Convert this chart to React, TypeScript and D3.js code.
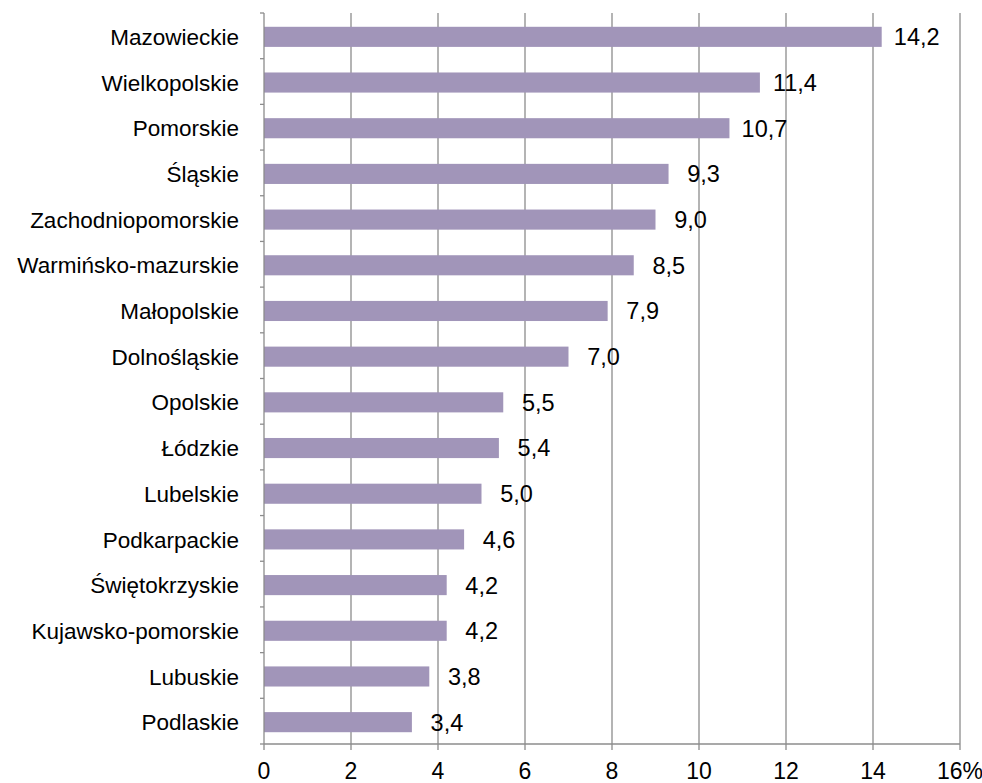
import React from 'react'
import * as d3 from 'd3'

// województwa, od góry
const regions = [
  'Mazowieckie', 'Wielkopolskie', 'Pomorskie', 'Śląskie', 'Zachodniopomorskie',
  'Warmińsko-mazurskie', 'Małopolskie', 'Dolnośląskie', 'Opolskie', 'Łódzkie',
  'Lubelskie', 'Podkarpackie', 'Świętokrzyskie', 'Kujawsko-pomorskie', 'Lubuskie', 'Podlaskie',
]
const shares = [14.2, 11.4, 10.7, 9.3, 9.0, 8.5, 7.9, 7.0, 5.5, 5.4, 5.0, 4.6, 4.2, 4.2, 3.8, 3.4]
const xTicks = [0, 2, 4, 6, 8, 10, 12, 14, 16]
const xTickLabels = ['0', '2', '4', '6', '8', '10', '12', '14', '16%']

const W = 982, H = 783
const LEFT = 264, RIGHT = 960, TOP = 13, BOTTOM = 744
const FONT = '"Liberation Sans", Arial, sans-serif'
const GRID = '#8c8c8c'
const BAR = '#a195b9'

export default function App() {
  const x = d3.scaleLinear().domain([0, 16]).range([LEFT, RIGHT])
  const y = d3.scaleBand().domain(regions).range([TOP + 1, BOTTOM + 1]).paddingInner(0.56).paddingOuter(0.28)
  const step = (BOTTOM - TOP) / regions.length
  const fmt = (v: number) => v.toFixed(1).replace('.', ',')

  return (
    <svg width={W} height={H} style={{ position: 'absolute', left: 0, top: 0, background: '#fff' }}>
      {/* linie siatki */}
      {xTicks.slice(1).map(t => (
        <line key={'g' + t} x1={x(t)} x2={x(t)} y1={TOP} y2={BOTTOM} stroke={GRID} strokeWidth={1.3} />
      ))}

      {/* słupki */}
      {regions.map((r, i) => (
        <rect key={r} x={x(0)} y={y(r)} width={x(shares[i]) - x(0)} height={y.bandwidth()} fill={BAR} />
      ))}

      {/* oś Y */}
      <line x1={LEFT} x2={LEFT} y1={TOP} y2={BOTTOM} stroke={GRID} strokeWidth={1.3} />
      {d3.range(regions.length + 1).map(i => (
        <line key={'yt' + i} x1={LEFT - 4} x2={LEFT} y1={TOP + i * step} y2={TOP + i * step} stroke={GRID} strokeWidth={1.3} />
      ))}
      {regions.map(r => (
        <text key={'l' + r} x={LEFT - 25} y={(y(r) as number) + y.bandwidth() / 2} dy="0.36em"
          textAnchor="end" fontFamily={FONT} fontSize={22.5} fill="#000">{r}</text>
      ))}

      {/* oś X */}
      <line x1={LEFT} x2={RIGHT} y1={BOTTOM} y2={BOTTOM} stroke={GRID} strokeWidth={1.3} />
      {xTicks.map((t, i) => (
        <g key={'xt' + t}>
          <line x1={x(t)} x2={x(t)} y1={BOTTOM} y2={BOTTOM + 6} stroke={GRID} strokeWidth={1.3} />
          <text x={x(t)} y={779} textAnchor="middle" fontFamily={FONT} fontSize={23} fill="#000">{xTickLabels[i]}</text>
        </g>
      ))}

      {/* etykiety wartości */}
      {regions.map((r, i) => (
        <text key={'v' + r} x={x(shares[i]) + 35} y={(y(r) as number) + y.bandwidth() / 2} dy="0.36em"
          textAnchor="middle" fontFamily={FONT} fontSize={23.5} fill="#000">{fmt(shares[i])}</text>
      ))}
    </svg>
  )
}
